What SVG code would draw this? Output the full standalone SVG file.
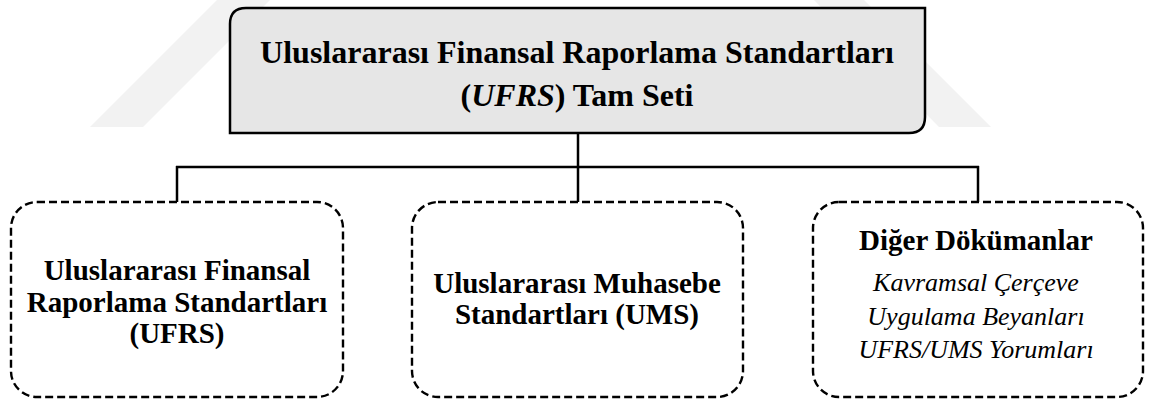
<svg xmlns="http://www.w3.org/2000/svg" width="1149" height="399" viewBox="0 0 1149 399">
  <style>
    .bg { fill: #ffffff; }
    .mark { fill: #f2f2f2; }
    .root-box { fill: #e6e6e6; stroke: #000000; stroke-width: 2.5; }
    .child-box { fill: none; stroke: #000000; stroke-width: 2.4; stroke-dasharray: 8 4; }
    .link { fill: none; stroke: #000000; stroke-width: 2.5; }
    .t { font-family: "Liberation Serif", "Times New Roman", serif; fill: #000000; text-anchor: middle; }
    .title { font-size: 32px; font-weight: bold; }
    .head { font-size: 29px; font-weight: bold; }
    .item { font-size: 26px; font-style: italic; }
  </style>

  <rect class="bg" x="0" y="0" width="1149" height="399"/>

  <!-- faint background bands -->
  <g id="backdrop">
    <polygon class="mark" points="90,127 143,127 270,0 217,0"/>
    <polygon class="mark" points="814,0 864,0 991,127 939,127"/>
  </g>

  <!-- connectors -->
  <g id="connectors">
    <line class="link" x1="578" y1="133" x2="578" y2="167"/>
    <line class="link" x1="176" y1="167" x2="979" y2="167"/>
    <line class="link" x1="177" y1="166" x2="177" y2="202"/>
    <line class="link" x1="578" y1="166" x2="578" y2="202"/>
    <line class="link" x1="978" y1="166" x2="978" y2="202"/>
  </g>

  <!-- root node -->
  <g id="node-root">
    <path class="root-box" d="M230,133 L230,24 Q230,8 246,8 L925,8 L925,117 Q925,133 909,133 Z"/>
    <text class="t title" x="577" y="63">Uluslararası Finansal Raporlama Standartları</text>
    <text class="t title" x="577" y="106">(<tspan font-style="italic">UFRS</tspan>) Tam Seti</text>
  </g>

  <!-- child nodes -->
  <g id="node-ufrs">
    <rect class="child-box" x="11" y="202" width="332" height="195" rx="26" ry="26"/>
    <text class="t head" x="177" y="280">Uluslararası Finansal</text>
    <text class="t head" x="177" y="312">Raporlama Standartları</text>
    <text class="t head" x="177" y="343">(UFRS)</text>
  </g>

  <g id="node-ums">
    <rect class="child-box" x="412" y="202" width="331" height="195" rx="26" ry="26"/>
    <text class="t head" x="577" y="293">Uluslararası Muhasebe</text>
    <text class="t head" x="577" y="324">Standartları (UMS)</text>
  </g>

  <g id="node-other">
    <rect class="child-box" x="813" y="202" width="330" height="195" rx="26" ry="26"/>
    <text class="t head" x="976" y="250">Diğer Dökümanlar</text>
    <text class="t item" x="976" y="291">Kavramsal Çerçeve</text>
    <text class="t item" x="976" y="325">Uygulama Beyanları</text>
    <text class="t item" x="976" y="358">UFRS/UMS Yorumları</text>
  </g>
</svg>
